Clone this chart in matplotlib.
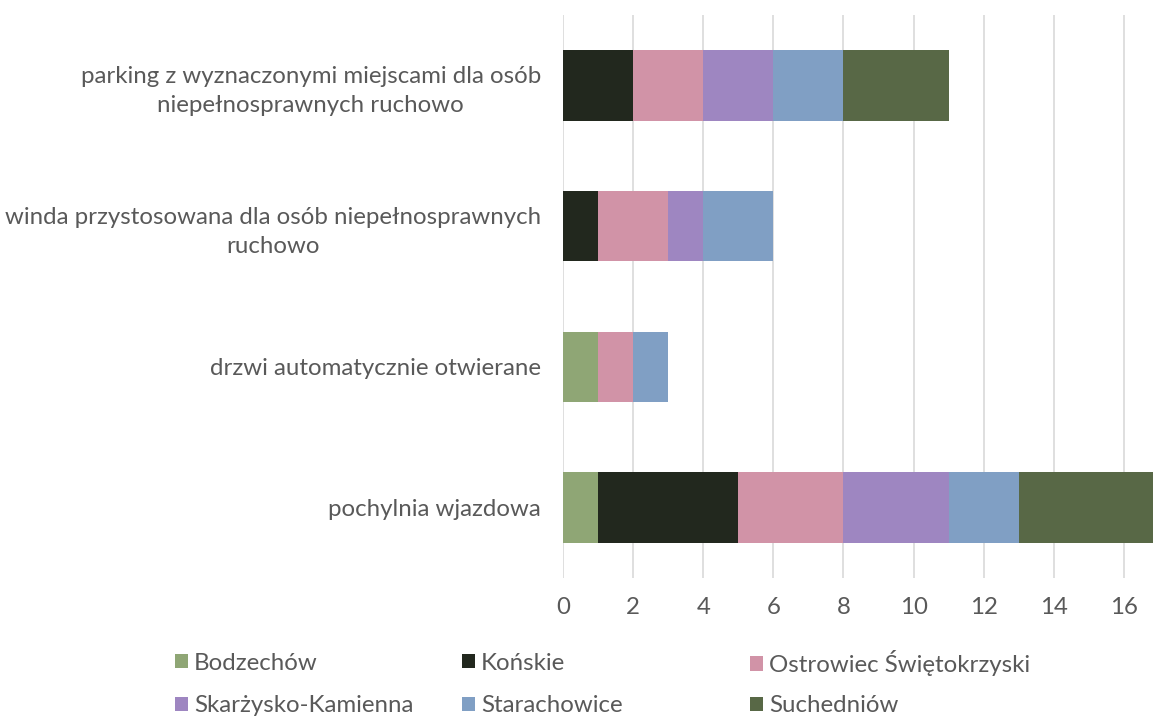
import numpy as np
import matplotlib.pyplot as plt
from matplotlib.patches import Patch

plt.rcParams['font.family'] = ['Lato', 'DejaVu Sans']

categories = [
    'parking z wyznaczonymi miejscami dla osób\nniepełnosprawnych ruchowo',
    'winda przystosowana dla osób niepełnosprawnych\nruchowo',
    'drzwi automatycznie otwierane',
    'pochylnia wjazdowa',
]
series = ['Bodzechów', 'Końskie', 'Ostrowiec Świętokrzyski',
          'Skarżysko-Kamienna', 'Starachowice', 'Suchedniów']
bodzechow = [0, 0, 1, 1]
konskie = [2, 1, 0, 4]
ostrowiec = [2, 2, 1, 3]
skarzysko = [2, 1, 0, 3]
starachowice = [2, 2, 1, 2]
suchedniow = [3, 0, 0, 4]
values = [bodzechow, konskie, ostrowiec, skarzysko, starachowice, suchedniow]
colors = ['#8FA675', '#22281E', '#D193A7', '#9E86C1', '#809FC4', '#586846']
text_color = '#595959'
FS = 17.3


def main():
    fig = plt.figure(figsize=(11.53, 7.18), dpi=100)
    ax = fig.add_axes([563 / 1153, 1 - 578 / 718, 590 / 1153, 563 / 718])

    y = np.arange(len(categories))[::-1]
    left = np.zeros(len(categories))
    for name, vals, col in zip(series, values, colors):
        ax.barh(y, vals, left=left, height=0.5, color=col, label=name, zorder=3)
        left += np.array(vals)

    ax.set_xlim(0, 590 / 35.06)
    ax.set_ylim(-0.5, len(categories) - 0.5)
    ax.set_xticks(np.arange(0, 17, 2))
    ax.set_yticks(y)
    ax.set_yticklabels(categories, multialignment='center', linespacing=1.45)
    ax.tick_params(axis='both', length=0, labelsize=FS, labelcolor=text_color)
    ax.tick_params(axis='y', pad=16)
    ax.tick_params(axis='x', pad=14)
    ax.grid(axis='x', color='#D9D9D9', linewidth=1.2, zorder=0)
    for s in ax.spines.values():
        s.set_visible(False)

    # legend: Excel-style equal columns, one entry per legend box
    handles = [Patch(facecolor=c, edgecolor='none') for c in colors]
    col_x = [175, 462, 750]
    row_y = [663, 706]
    for j, name in enumerate(series):
        x = col_x[j % 3] / 1153
        yy = 1 - row_y[j // 3] / 718
        fig.legend([handles[j]], [name], loc='center left',
                   bbox_to_anchor=(x, yy), frameon=False, fontsize=FS,
                   labelcolor=text_color, handlelength=0.55,
                   handleheight=0.55, handletextpad=0.25,
                   borderaxespad=0, borderpad=0)

    fig.savefig('out.png', dpi=100)


if __name__ == '__main__':
    main()
